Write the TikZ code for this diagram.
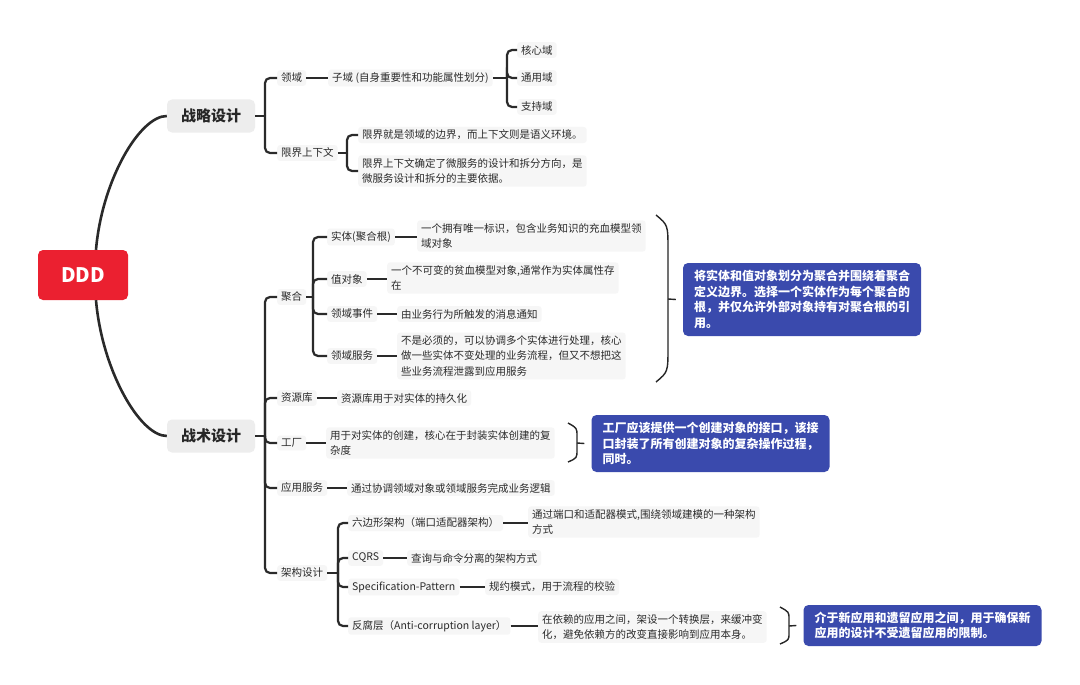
\documentclass[tikz,border=0pt]{standalone}
\usepackage{fontspec}
\setmainfont{Noto Sans CJK SC}
\usepackage{xcolor}
\usepackage{tikz}
\usetikzlibrary{calc}

\definecolor{ink}{HTML}{2A2A2A}
\definecolor{leafbg}{HTML}{F6F6F6}
\definecolor{mainbg}{HTML}{EDEDED}
\definecolor{dddred}{HTML}{EB2030}
\definecolor{noteblue}{HTML}{3A4AAD}

\tikzset{
    topic/.style={fill=leafbg, text=ink, rounded corners=3pt, anchor=west, align=left,
        inner xsep=4pt, inner ysep=3pt, font=\fontsize{10.5}{15.5}\selectfont},
    maintopic/.style={fill=mainbg, text=black!85, rounded corners=5pt, minimum width=88pt,
        minimum height=33pt, font=\bfseries\fontsize{15}{18}\selectfont},
    note/.style={fill=noteblue, text=white, rounded corners=5pt, align=left,
        minimum width=238pt, inner xsep=9pt, font=\bfseries\fontsize{12}{15.7}\selectfont},
    link/.style={draw=ink, line width=2.2pt},
    branch/.style={draw=ink, line width=2.2pt, rounded corners=5pt},
    brace/.style={draw=black!85, line width=1.4pt}
}

\begin{document}
\begin{tikzpicture}[x=1pt, y=-1pt]
    % 0. Khung
    \fill[white] (0,0) rectangle (1080,685);
    \useasboundingbox (0,0) rectangle (1080,685);

    % 1. Chủ đề trung tâm
    \node[fill=dddred, text=white, rounded corners=5pt, minimum width=90pt, minimum height=50pt,
        font=\bfseries\fontsize{20}{24}\selectfont] (ddd) at (83,275) {DDD};
    \node[maintopic] (zl) at (211,116) {战略设计};
    \node[maintopic] (zs) at (211,436) {战术设计};
    \draw[link, line width=2.6pt] ([xshift=13pt]ddd.north) .. controls +(6,-70) and +(-27,0) .. (zl.west);
    \draw[link, line width=2.6pt] ([xshift=13pt]ddd.south) .. controls +(6,70) and +(-27,0) .. (zs.west);

    % 2. 战略设计
    \node[topic] (ly) at (277,78) {领域};
    \node[topic] (xj) at (277,153) {限界上下文};
    \coordinate (jzl) at ([xshift=-12pt]ly.west |- zl.east);
    \draw[link] (zl.east) -- (jzl);
    \foreach \c in {ly,xj}
        \draw[branch] (jzl) |- (\c.west);

    \node[topic] (zy) at (328,78) {子域 (自身重要性和功能属性划分)};
    \draw[link] (ly.east) -- (ly.east -| zy.west);
    \node[topic] (hx) at (517,50) {核心域};
    \node[topic] (ty) at (517,78) {通用域};
    \node[topic] (zc) at (517,107) {支持域};
    \coordinate (jzy) at ([xshift=-10pt]hx.west |- zy.east);
    \draw[link] (zy.east) -- (jzy);
    \foreach \c in {hx,ty,zc}
        \draw[branch] (jzy) |- (\c.west);

    \node[topic] (xj1) at (358,135) {限界就是领域的边界，而上下文则是语义环境。};
    \node[topic] (xj2) at (358,171) {限界上下文确定了微服务的设计和拆分方向，是\\微服务设计和拆分的主要依据。};
    \coordinate (jxj) at ([xshift=-11pt]xj1.west |- xj.east);
    \draw[link] (xj.east) -- (jxj);
    \foreach \c in {xj1,xj2}
        \draw[branch] (jxj) |- (\c.west);

    % 3. 战术设计
    \node[topic] (jh) at (277,297) {聚合};
    \node[topic] (zyk) at (277,398) {资源库};
    \node[topic] (gc) at (277,443) {工厂};
    \node[topic] (yy) at (277,488) {应用服务};
    \node[topic] (jg) at (277,573) {架构设计};
    \coordinate (jzs) at ([xshift=-12pt]jh.west |- zs.east);
    \draw[link] (zs.east) -- (jzs);
    \foreach \c in {jh,zyk,gc,yy,jg}
        \draw[branch] (jzs) |- (\c.west);

    % 3.1 聚合
    \node[topic] (st) at (327,237) {实体(聚合根)};
    \node[topic] (zdx) at (327,279) {值对象};
    \node[topic] (sj) at (327,314) {领域事件};
    \node[topic] (fw) at (327,356) {领域服务};
    \coordinate (jjh) at ([xshift=-14pt]st.west |- jh.east);
    \draw[link] (jh.east) -- (jjh);
    \foreach \c in {st,zdx,sj,fw}
        \draw[branch] (jjh) |- (\c.west);

    \node[topic] (std) at (417,236) {一个拥有唯一标识，包含业务知识的充血模型领\\域对象};
    \node[topic] (zdxd) at (387,278) {一个不可变的贫血模型对象,通常作为实体属性存\\在};
    \node[topic] (sjd) at (397,314) {由业务行为所触发的消息通知};
    \node[topic] (fwd) at (397,356) {不是必须的，可以协调多个实体进行处理，核心\\做一些实体不变处理的业务流程，但又不想把这\\些业务流程泄露到应用服务};
    \foreach \a/\b in {st/std,zdx/zdxd,sj/sjd,fw/fwd}
        \draw[link] (\a.east) -- (\a.east -| \b.west);

    \draw[brace] (656,215) .. controls (668,225) .. (668,250) -- (668,347) .. controls (668,372) .. (656,382);
    \coordinate (b1) at (668,299);
    \node[note, minimum height=73pt] (n1) at (802,299.5) {将实体和值对象划分为聚合并围绕着聚合\\定义边界。选择一个实体作为每个聚合的\\根，并仅允许外部对象持有对聚合根的引\\用。};
    \draw[brace] (b1) -- ([xshift=-7pt]n1.west);

    % 3.2 资源库, 工厂, 应用服务
    \node[topic] (zykd) at (337,398) {资源库用于对实体的持久化};
    \node[topic] (gcd) at (326,443) {用于对实体的创建，核心在于封装实体创建的复\\杂度};
    \node[topic] (yyd) at (347,488) {通过协调领域对象或领域服务完成业务逻辑};
    \foreach \a/\b in {zyk/zykd,gc/gcd,yy/yyd}
        \draw[link] (\a.east) -- (\a.east -| \b.west);

    \draw[brace] (568,423) .. controls (577,428) .. (577,436) -- (577,450) .. controls (577,458) .. (568,462);
    \coordinate (b2) at (577,443);
    \node[note, minimum height=57pt] (n2) at (710.5,443.5) {工厂应该提供一个创建对象的接口，该接\\口封装了所有创建对象的复杂操作过程，\\同时。};
    \draw[brace] (b2) -- ([xshift=-7pt]n2.west);

    % 3.3 架构设计
    \node[topic] (hex) at (348,523) {六边形架构（端口适配器架构）};
    \node[topic] (cqrs) at (348,558) {CQRS};
    \node[topic] (spec) at (348,587) {Specification-Pattern};
    \node[topic] (acl) at (348,626) {反腐层（Anti-corruption layer）};
    \coordinate (jjg) at ([xshift=-10pt]hex.west |- jg.east);
    \draw[link] (jg.east) -- (jjg);
    \foreach \c in {hex,cqrs,spec,acl}
        \draw[branch] (jjg) |- (\c.west);

    \node[topic] (hexd) at (528,522) {通过端口和适配器模式,围绕领域建模的一种架构\\方式};
    \node[topic] (cqrsd) at (407,558) {查询与命令分离的架构方式};
    \node[topic] (specd) at (485,587) {规约模式，用于流程的校验};
    \node[topic] (acld) at (538,627) {在依赖的应用之间，架设一个转换层，来缓冲变\\化，避免依赖方的改变直接影响到应用本身。};
    \foreach \a/\b in {hex/hexd,cqrs/cqrsd,spec/specd,acl/acld}
        \draw[link] (\a.east) -- (\a.east -| \b.west);

    \draw[brace] (780,607) .. controls (789,612) .. (789,619) -- (789,633) .. controls (789,640) .. (780,644);
    \coordinate (b3) at (789,626);
    \node[note, minimum height=41pt] (n3) at (922.5,625.5) {介于新应用和遗留应用之间，用于确保新\\应用的设计不受遗留应用的限制。};
    \draw[brace] (b3) -- ([xshift=-7pt]n3.west);
\end{tikzpicture}
\end{document}
